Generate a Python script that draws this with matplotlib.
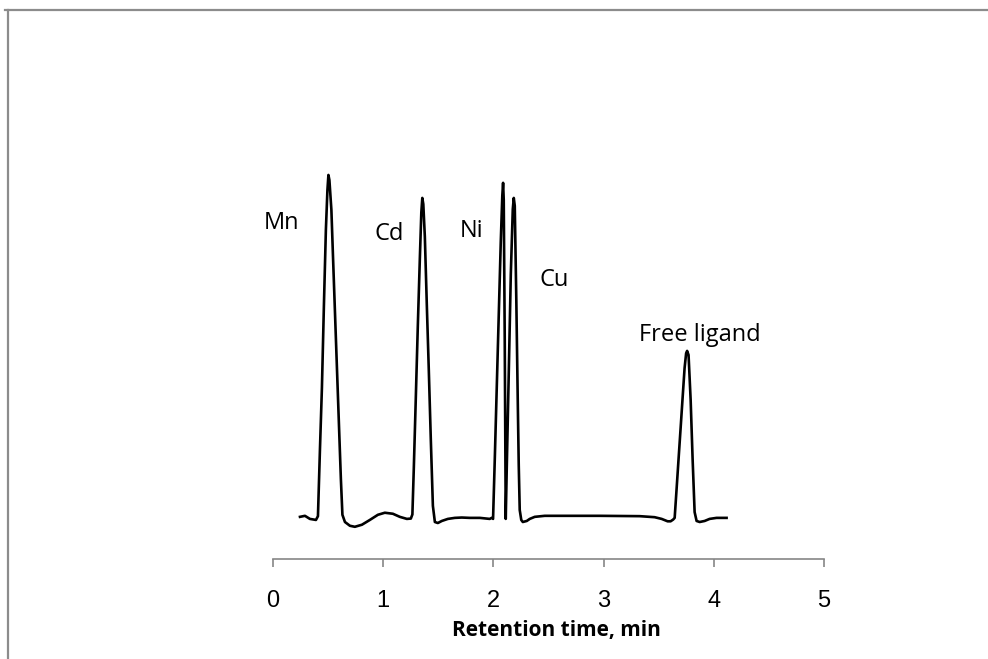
import numpy as np
import matplotlib.pyplot as plt
from matplotlib.lines import Line2D

# Chromatogram (retention time in min, signal in arbitrary units)
mn_time = [0.245, 0.29, 0.335, 0.39, 0.408, 0.426, 0.444, 0.462, 0.48, 0.494, 0.503, 0.512, 0.53, 0.544, 0.571,
           0.598, 0.616, 0.63, 0.653, 0.698, 0.743, 0.807, 0.879, 0.952, 1.015, 1.088, 1.151, 1.215, 1.251]
mn_signal = [0.3, 0.6, -0.3, -0.6, 0.5, 19.8, 37.9, 61.8, 84.0, 95.6, 100.0, 98.5, 89.8, 76.7, 52.2,
             27.7, 11.4, 0.9, -1.2, -2.3, -2.6, -2.0, -0.6, 0.9, 1.5, 1.2, 0.3, -0.3, -0.2]

cd_time = [1.265, 1.278, 1.296, 1.314, 1.333, 1.346, 1.355, 1.364, 1.378, 1.396, 1.414, 1.432, 1.451, 1.469, 1.496,
           1.532, 1.587, 1.65, 1.713, 1.786, 1.877, 1.967, 1.985]
cd_signal = [1.0, 14.6, 35.0, 55.7, 76.0, 89.0, 93.3, 91.5, 82.0, 62.0, 43.0, 23.0, 3.5, -1.2, -1.5,
             -0.9, -0.3, 0.0, 0.1, 0.0, 0.0, -0.3, 0.0]

ni_cu_time = [1.997, 2.013, 2.031, 2.049, 2.067, 2.081, 2.088, 2.094, 2.103, 2.112, 2.121, 2.14, 2.158, 2.176, 2.185,
              2.194, 2.208, 2.221, 2.23, 2.239, 2.253, 2.267, 2.303, 2.33, 2.375, 2.466]
ni_cu_signal = [-0.3, 17.5, 38.5, 59.5, 80.5, 94.0, 97.7, 92.7, 52.0, -0.3, 14.0, 43.0, 71.0, 90.0, 93.3,
                91.0, 63.6, 34.4, 15.5, 2.3, -0.6, -1.2, -0.9, -0.3, 0.3, 0.6]

ligand_time = [2.511, 2.965, 3.327, 3.463, 3.527, 3.581, 3.608, 3.631, 3.645, 3.663, 3.681, 3.699, 3.717, 3.735, 3.749,
               3.758, 3.771, 3.79, 3.808, 3.826, 3.844, 3.872, 3.917, 3.962, 4.025, 4.116]
ligand_signal = [0.6, 0.6, 0.5, 0.2, -0.3, -1.0, -1.0, -0.5, 0.0, 8.7, 17.5, 26.2, 35.0, 43.7, 48.0,
                 48.7, 47.5, 34.4, 17.0, 1.7, -0.9, -1.2, -0.9, -0.3, 0.0, 0.0]

x_ticks = [0, 1, 2, 3, 4, 5]

# Peak labels: text, retention time, signal level
peak_labels = ['Mn', 'Cd', 'Ni', 'Cu', 'Free ligand']
label_time = [0.08, 1.05, 1.80, 2.55, 3.87]
label_signal = [86.0, 82.8, 83.7, 69.4, 53.4]

time = np.concatenate([mn_time, cd_time, ni_cu_time, ligand_time])
signal = np.concatenate([mn_signal, cd_signal, ni_cu_signal, ligand_signal])

fig = plt.figure(figsize=(9.88, 6.59), dpi=100)
ax = fig.add_axes([0.2763, 0.1517, 0.5577, 0.6973])

ax.plot(time, signal, color='black', linewidth=1.9, solid_joinstyle='round')

# Peak names
for name, t, s in zip(peak_labels, label_time, label_signal):
    ax.text(t, s, name, ha='center', va='center', fontsize=17, family=['Open Sans', 'DejaVu Sans'])

# Axis setup: only a grey x axis
ax.set_xlim(0, 5)
ax.set_ylim(-12, 122)
ax.set_xticks(x_ticks)
ax.set_xticklabels([str(t) for t in x_ticks], family=['Liberation Sans', 'DejaVu Sans'], fontsize=17)
ax.set_yticks([])
for side in ['left', 'right', 'top']:
    ax.spines[side].set_visible(False)
ax.spines['bottom'].set_color('#868686')
ax.spines['bottom'].set_linewidth(1.2)
ax.tick_params(axis='x', direction='out', length=6, width=1.2, color='#868686', pad=16)

ax.set_xlabel('Retention time, min', fontsize=15, fontweight='bold', family=['Open Sans', 'DejaVu Sans'])
ax.xaxis.label.set_va('center')
ax.xaxis.set_label_coords(0.515, -0.155)

# Grey frame along the top and left edges
fig.add_artist(Line2D([0.005, 1.0], [0.985, 0.985], color='#8c8c8c', linewidth=1.6, transform=fig.transFigure))
fig.add_artist(Line2D([0.008, 0.008], [0.0, 0.985], color='#8c8c8c', linewidth=1.6, transform=fig.transFigure))

fig.savefig('out.png', dpi=100)
